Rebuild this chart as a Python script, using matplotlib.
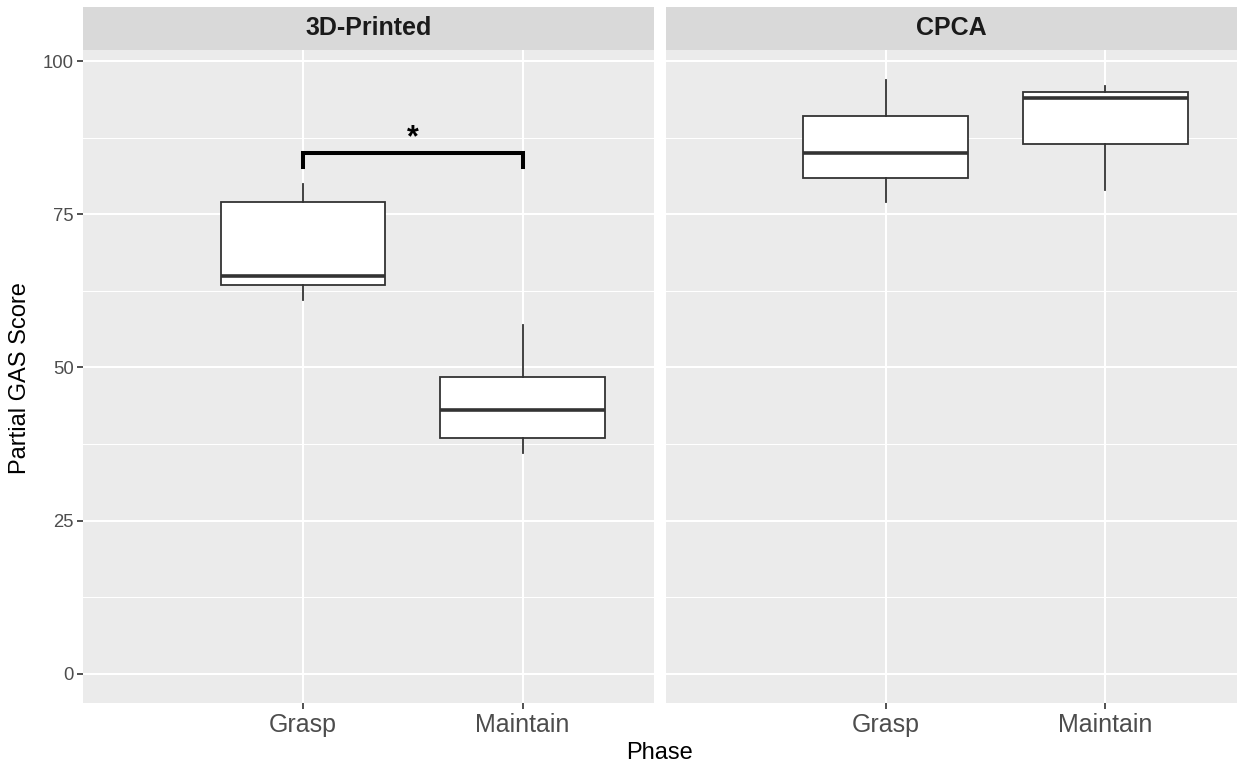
#!/usr/bin/env python3

# Partial GAS score by phase, two facets (3D-Printed vs CPCA), ggplot look

import matplotlib
matplotlib.use("Agg")
import matplotlib.pyplot as plt

plt.rcParams["font.family"] = ["Liberation Sans", "DejaVu Sans"]

facets = ["3D-Printed", "CPCA"]
phases = ["Grasp", "Maintain"]

# box stats, one list per facet: [Grasp, Maintain]
whislo = {"3D-Printed": [61, 36], "CPCA": [77, 79]}
q1 = {"3D-Printed": [63.5, 38.5], "CPCA": [81, 86.5]}
median = {"3D-Printed": [65, 43], "CPCA": [85, 94]}
q3 = {"3D-Printed": [77, 48.5], "CPCA": [91, 95]}
whishi = {"3D-Printed": [80, 57], "CPCA": [97, 96]}

# significance bracket in the 3D-Printed panel
sig_facet = "3D-Printed"
sig_y = 85.1
sig_tip = 82.7
sig_label = "*"

y_ticks = [0, 25, 50, 75, 100]
y_minor = [12.5, 37.5, 62.5, 87.5]
y_lo, y_hi = 0, 97

W, H = 1238, 765
fig = plt.figure(figsize=(W / 100, H / 100), dpi=100)

panel_left = [83.3, 666]
panel_w = 571
top, bottom = 50, 703.3
strip_top = 6.7

pad = 0.05 * (y_hi - y_lo)
grey_txt = "#4D4D4D"
box_col = "#333333"

for k, facet in enumerate(facets):
    ax = fig.add_axes([panel_left[k] / W, 1 - bottom / H, panel_w / W, (bottom - top) / H])
    ax.set_facecolor("#EBEBEB")
    for s in ax.spines.values():
        s.set_visible(False)

    # grid
    for y in y_ticks:
        ax.axhline(y, color="white", lw=1.5, zorder=0)
    for y in y_minor:
        ax.axhline(y, color="white", lw=0.75, zorder=0)
    pos = list(range(1, len(phases) + 1))
    for x in pos:
        ax.axvline(x, color="white", lw=1.5, zorder=0)

    stats = []
    for i, p in enumerate(phases):
        stats.append(dict(label=p, whislo=whislo[facet][i], q1=q1[facet][i],
                          med=median[facet][i], q3=q3[facet][i],
                          whishi=whishi[facet][i], fliers=[]))
    ax.bxp(stats, positions=pos, widths=0.75, showcaps=False, patch_artist=True,
           boxprops=dict(facecolor="white", edgecolor=box_col, linewidth=1.3),
           whiskerprops=dict(color=box_col, linewidth=1.3),
           medianprops=dict(color=box_col, linewidth=2.6, solid_capstyle="butt"),
           zorder=2)

    if facet == sig_facet:
        ax.plot([1, 1, 2, 2], [sig_tip, sig_y, sig_y, sig_tip], color="black",
                lw=2.9, solid_joinstyle="miter", zorder=3)
        ax.text(1.5, sig_y + 2.3, sig_label, ha="center", va="center",
                fontsize=22, fontweight="bold", color="black")

    ax.set_xlim(0, 2.6)
    ax.set_ylim(y_lo - pad, y_hi + pad)
    ax.set_xticks(pos)
    ax.set_xticklabels(phases, fontsize=18, color=grey_txt)
    ax.tick_params(axis="x", length=4, width=1.2, color=box_col, pad=3)
    if k == 0:
        ax.set_yticks(y_ticks)
        ax.set_yticklabels([str(v) for v in y_ticks], fontsize=13.3, color=grey_txt)
        ax.tick_params(axis="y", length=4, width=1.2, color=box_col, pad=3)
    else:
        ax.set_yticks([])
    ax.set_yticks(y_minor, minor=True)
    ax.tick_params(which="minor", length=0)

    # facet strip
    sax = fig.add_axes([panel_left[k] / W, 1 - top / H, panel_w / W, (top - strip_top) / H])
    sax.set_facecolor("#D9D9D9")
    sax.set_xticks([])
    sax.set_yticks([])
    for s in sax.spines.values():
        s.set_visible(False)
    sax.text(0.5, 0.5, facet, ha="center", va="center", fontsize=18,
             fontweight="bold", color="#1A1A1A", transform=sax.transAxes)

fig.text(660 / W, 1 - 753 / H, "Phase", ha="center", va="center", fontsize=17)
fig.text(20 / W, 1 - 378 / H, "Partial GAS Score", ha="center", va="center",
         rotation=90, fontsize=17)

fig.savefig("out.png", dpi=100)
